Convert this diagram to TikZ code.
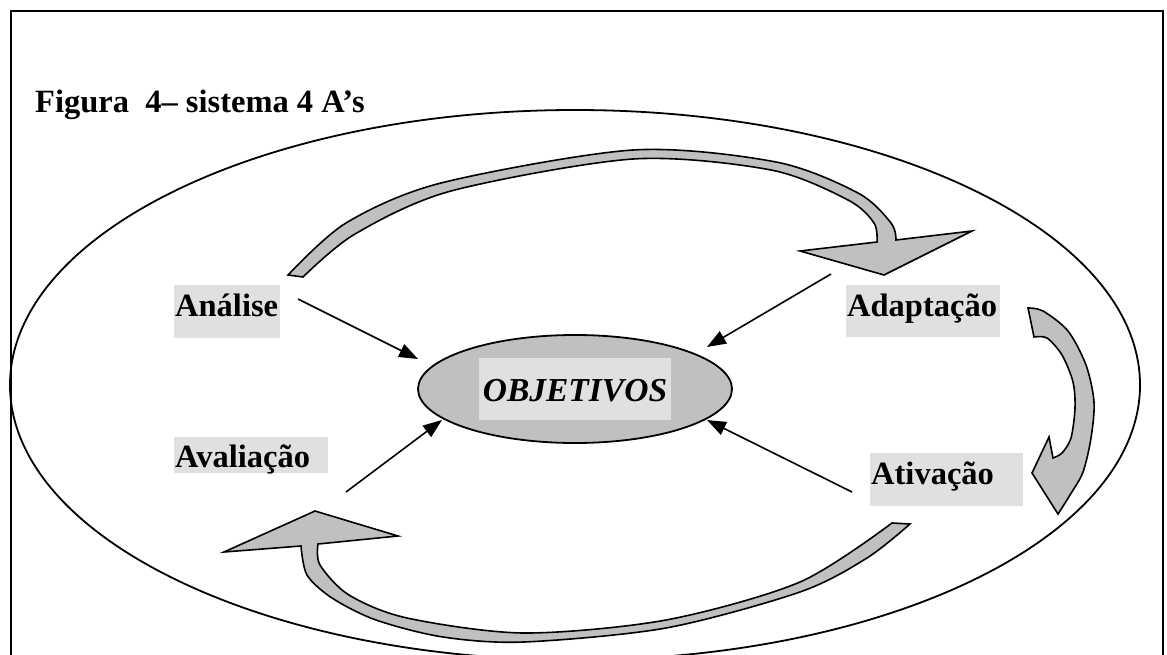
\documentclass[tikz,border=0pt]{standalone}
\usepackage{fontspec}
\setmainfont{Liberation Serif}
\usetikzlibrary{shapes.geometric,arrows.meta}
\definecolor{boxgray}{RGB}{224,224,224}
\definecolor{arrgray}{RGB}{192,192,192}
\begin{document}
\begin{tikzpicture}[x=1pt,y=-1pt,
  lbl/.style={fill=boxgray, inner xsep=1pt, inner ysep=0pt, anchor=north west, align=left,
    font=\fontsize{32.5}{38}\selectfont\bfseries},
  pointer/.style={line width=1.6pt, -{Triangle[length=19pt,width=14pt]}},
  block/.style={fill=arrgray, draw=black, line width=1.6pt, line join=miter}]
\useasboundingbox (0,0) rectangle (1167,655);
\clip (0,0) rectangle (1167,655);
% frame
\draw[line width=2.5pt] (11,660) -- (11,11) -- (1163,11) -- (1163,660);
% outer ellipse
\draw[line width=1.8pt] (575,385) ellipse [x radius=565pt, y radius=275pt];
% title
\node[anchor=base west, inner sep=0pt, font=\fontsize{32.5}{38}\selectfont\bfseries] (title) at (35,113) {Figura\ \ 4– sistema 4 A’s};
% labels
\node[lbl, text width=104pt, minimum height=53pt, text height=22pt, text depth=13pt] (analise) at (174,285) {Análise};
\node[lbl, text width=152pt, minimum height=52pt, text height=22pt, text depth=12pt] (adapt) at (846,285) {Adaptação};
\node[lbl, text width=152pt, minimum height=36pt, text height=24pt, text depth=0pt] (aval) at (174,437) {Avaliação};
\node[lbl, text width=151pt, minimum height=53pt, text height=22pt, text depth=13pt] (ativ) at (870,453) {Ativação};
% center
\node[ellipse, draw, fill=arrgray, line width=1.8pt, minimum width=314pt, minimum height=108pt, inner sep=0pt] (obj) at (575,389) {};
\node[fill=boxgray, inner sep=0pt, minimum width=192pt, minimum height=62pt, text height=24pt, text depth=0pt,
  font=\fontsize{33.5}{40}\selectfont\bfseries\itshape] (objtxt) at (575,389) {OBJETIVOS};
% pointers
\coordinate (p1s) at (298,299); \coordinate (p1e) at (418,359);
\coordinate (p2s) at (831,274); \coordinate (p2e) at (707,347);
\coordinate (p3s) at (346,492); \coordinate (p3e) at (442,420);
\coordinate (p4s) at (852,492); \coordinate (p4e) at (707,420);
\draw[pointer] (p1s) -- (p1e);
\draw[pointer] (p2s) -- (p2e);
\draw[pointer] (p3s) -- (p3e);
\draw[pointer] (p4s) -- (p4e);
% top block arrow
\draw[block] plot[smooth] coordinates {(288,275) (346,223) (441,183) (633,150) (776,162) (858,193) (891,223) (896,240)}
  -- (972,231) -- (884,275) -- (800,251) -- (877,242)
  -- plot[smooth] coordinates {(877,242) (874,223) (848,200) (771,170) (633,159) (451,191) (355,234) (303,277)} -- cycle;
% right block arrow
\draw[block] plot[smooth] coordinates {(1028,308) (1043,311) (1068,331) (1086,365) (1094,402) (1091,438) (1083,472) (1070,495) (1058,514)}
  -- (1032,473) -- (1049,437) -- (1053,458)
  -- plot[smooth] coordinates {(1053,458) (1062,453) (1071,438) (1075,408) (1073,382) (1062,355) (1047,338) (1034,337)} -- cycle;
% bottom block arrow
\draw[block] (892,523) -- (910,524)
  -- plot[smooth] coordinates {(910,524) (867,558) (800,592) (666,628) (524,642) (443,637) (376,620) (332,598) (307,575) (301,546)}
  -- (224,552) -- (315,511) -- (398,536) -- (318,544)
  -- plot[smooth] coordinates {(318,544) (320,565) (349,595) (407,618) (524,633) (666,620) (800,582) (892,523)} -- cycle;
\end{tikzpicture}
\end{document}
